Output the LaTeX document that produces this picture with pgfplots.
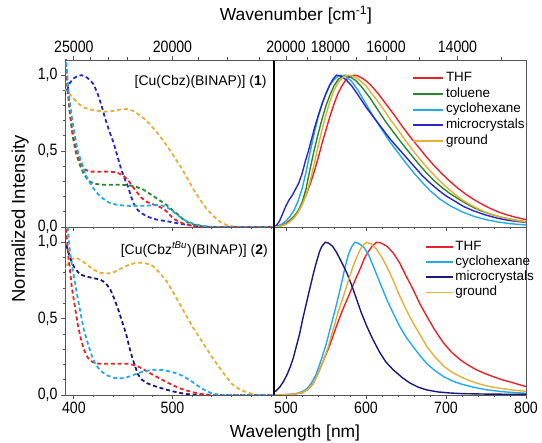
\documentclass[border=0pt]{standalone}
\usepackage{pgfplots}
\pgfplotsset{compat=1.18}
\usepackage{fontspec}
\setmainfont{Liberation Sans}
\newfontfamily\tickfont{Liberation Sans}[FakeStretch=0.86]

\definecolor{cTHF}{RGB}{232,35,40}
\definecolor{cTol}{RGB}{40,135,45}
\definecolor{cCyc}{RGB}{35,170,235}
\definecolor{cMicA}{RGB}{40,40,200}
\definecolor{cMicB}{RGB}{25,25,120}
\definecolor{cGnd}{RGB}{230,175,55}
\definecolor{framecol}{RGB}{85,85,85}

\pgfplotsset{
  panel/.style={
    scale only axis, anchor=south west,
    ymin=0, ymax=1.1,
    axis line style={framecol, line width=0.9bp},
    tick style={framecol, line width=0.8bp},
    tick align=outside,
    major tick length=4bp, minor tick length=2.5bp,
    ticklabel style={font=\tickfont\fontsize{16.5}{18}\selectfont},
    /pgf/number format/assume math mode=true,
    clip mode=individual,
  },
  leftpanel/.style={panel, width=209bp, xmin=391, xmax=603,
    xtick={400,500}, minor xtick={420,440,460,480,520,540,560,580,600},
    xtick pos=bottom,
    ytick={0,0.5,1}, minor ytick={0.1,0.2,0.3,0.4,0.6,0.7,0.8,0.9},
    ytick pos=left},
  rightpanel/.style={panel, width=252bp, xmin=485, xmax=800,
    xtick={500,600,700,800},
    minor xtick={520,540,560,580,620,640,660,680,720,740,760,780},
    xtick pos=bottom, ytick=\empty,
    after end axis/.append code={
      \draw[black, line width=1.3bp] (rel axis cs:0,0) -- (rel axis cs:0,1);}},
  wavenumber/.style={scale only axis, anchor=south west, ymin=0, ymax=1.1,
    axis x line*=top, axis y line=none,
    axis line style={framecol, line width=0.9bp},
    tick style={framecol, line width=0.8bp},
    tick align=outside, major tick length=4bp, minor tick length=2.5bp,
    ticklabel style={font=\tickfont\fontsize{16.5}{18}\selectfont}},
  abs/.style={line width=1.8bp, dash pattern=on 4bp off 2.8bp},
  emi/.style={line width=1.4bp},
}

\begin{document}
\begin{tikzpicture}[x=1bp, y=1bp]
\useasboundingbox (0,0) rectangle (542,443);

% ---------- complex 1: absorption ----------
\begin{axis}[leftpanel, at={(65bp,216bp)}, height=167bp, xticklabels={},
  yticklabels={\raisebox{2.5bp}{0,0},{0,5},{1,0}}]
\addplot[abs, cGnd] coordinates {(390,0.91)(394,0.89)(399,0.85)(405,0.81)(411,0.785)(419,0.77)(427,0.762)(434,0.76)(441,0.765)(448,0.775)(454,0.777)(460,0.765)(466,0.74)(472,0.71)(478,0.67)(484,0.625)(490,0.575)(497,0.51)(504,0.44)(510,0.38)(516,0.31)(522,0.24)(528,0.18)(534,0.125)(541,0.075)(548,0.035)(555,0.012)(562,0.003)(570,0)(603,0)};
\addplot[abs, cMicA] coordinates {(390,0.86)(393,0.9)(396,0.95)(400,0.98)(404,0.995)(408,1.0)(412,0.99)(416,0.97)(420,0.94)(424,0.88)(428,0.8)(432,0.71)(436,0.63)(440,0.56)(444,0.47)(448,0.38)(452,0.31)(455,0.265)(458,0.2)(461,0.15)(465,0.11)(470,0.085)(476,0.065)(483,0.05)(490,0.042)(497,0.035)(505,0.025)(514,0.015)(522,0.006)(530,0)(603,0)};
\addplot[abs, cTol] coordinates {(389,1.35)(392,1.05)(394,0.88)(396,0.74)(399,0.59)(402,0.49)(406,0.41)(410,0.35)(414,0.31)(420,0.285)(430,0.278)(445,0.278)(455,0.276)(463,0.265)(470,0.248)(478,0.215)(486,0.18)(494,0.145)(500,0.11)(505,0.085)(510,0.055)(515,0.032)(522,0.015)(530,0.005)(540,0)(603,0)};
\addplot[abs, cTHF] coordinates {(389,1.35)(392,1.08)(394,0.9)(396,0.76)(398,0.65)(401,0.55)(404,0.48)(407,0.42)(411,0.38)(416,0.365)(425,0.364)(435,0.365)(443,0.36)(450,0.34)(456,0.3)(462,0.245)(468,0.195)(474,0.165)(480,0.15)(486,0.135)(491,0.12)(496,0.09)(500,0.06)(505,0.04)(512,0.02)(521,0.008)(530,0)(603,0)};
\addplot[abs, cCyc] coordinates {(389,1.4)(391,1.2)(393,1.02)(395,0.87)(398,0.72)(401,0.6)(404,0.5)(408,0.42)(413,0.33)(418,0.27)(424,0.22)(430,0.185)(436,0.16)(443,0.147)(452,0.14)(462,0.138)(472,0.14)(480,0.143)(487,0.145)(493,0.135)(498,0.115)(503,0.09)(508,0.065)(514,0.04)(521,0.022)(528,0.01)(536,0.003)(545,0)(603,0)};
\node[anchor=east, inner sep=0pt, font=\fontsize{14}{16}\selectfont]
  at (rel axis cs:0.965,0.868) {[Cu(Cbz)(BINAP)] (\textbf{1})};
\end{axis}
\begin{axis}[wavenumber, at={(65bp,216bp)}, width=209bp, height=167bp,
  xmin=391, xmax=603, xtick={400,500}, xticklabels={25000,20000},
  minor xtick={416.667,434.783,454.545,476.190,526.316,555.556,588.235}]
\end{axis}

% ---------- complex 1: emission ----------
\begin{axis}[rightpanel, at={(274bp,216bp)}, height=167bp, xticklabels={},
  legend style={draw=none, fill=none, at={(0.537,0.951)}, anchor=north west,
    font=\fontsize{13.5}{15}\selectfont, row sep=0pt,
    nodes={inner sep=1.6bp, text height=9.5bp, text depth=3bp}},
  legend cell align=left,
  legend image code/.code={\draw[#1, line width=1.9bp] (0bp,0bp) -- (30bp,0bp);}]
\addplot[emi, cTHF] coordinates {(485,0)(490,0.005)(495,0.012)(500,0.025)(505,0.045)(510,0.07)(515,0.1)(520,0.15)(525,0.21)(530,0.28)(535,0.36)(540,0.45)(545,0.55)(550,0.64)(555,0.73)(560,0.81)(565,0.88)(570,0.93)(575,0.97)(580,0.99)(585,1.0)(590,0.995)(597,0.975)(605,0.94)(615,0.88)(625,0.81)(635,0.74)(645,0.665)(655,0.595)(665,0.53)(675,0.465)(685,0.405)(695,0.35)(705,0.3)(715,0.255)(725,0.215)(735,0.18)(745,0.15)(755,0.123)(765,0.1)(775,0.082)(787,0.064)(800,0.048)};
\addlegendentry{THF}
\addplot[emi, cTol] coordinates {(485,0)(490,0.004)(495,0.01)(500,0.022)(505,0.04)(510,0.068)(515,0.105)(520,0.16)(525,0.25)(530,0.38)(535,0.5)(540,0.61)(545,0.71)(550,0.8)(555,0.87)(560,0.93)(565,0.97)(570,0.993)(574,1.0)(580,0.99)(587,0.965)(595,0.92)(605,0.85)(615,0.77)(625,0.69)(635,0.62)(645,0.55)(655,0.485)(665,0.42)(675,0.36)(685,0.305)(695,0.26)(705,0.22)(717,0.18)(730,0.14)(742,0.11)(755,0.085)(770,0.063)(785,0.047)(800,0.034)};
\addlegendentry{toluene}
\addplot[emi, cCyc] coordinates {(485,0)(490,0.008)(495,0.02)(500,0.04)(505,0.07)(510,0.11)(515,0.17)(520,0.25)(525,0.36)(530,0.49)(535,0.61)(540,0.72)(545,0.81)(550,0.88)(555,0.935)(560,0.97)(565,0.993)(569,1.0)(575,0.99)(582,0.96)(590,0.9)(600,0.81)(610,0.72)(620,0.64)(630,0.56)(640,0.49)(650,0.42)(660,0.355)(670,0.295)(680,0.24)(692,0.185)(705,0.14)(720,0.1)(735,0.07)(750,0.048)(765,0.033)(780,0.022)(800,0.013)};
\addlegendentry{cyclohexane}
\addplot[emi, cMicA] coordinates {(485,0)(488,0.01)(492,0.04)(496,0.09)(500,0.14)(504,0.18)(508,0.21)(512,0.25)(516,0.29)(520,0.35)(524,0.43)(528,0.5)(532,0.58)(536,0.66)(540,0.73)(545,0.81)(550,0.88)(555,0.94)(559,0.975)(563,1.0)(568,0.995)(575,0.97)(582,0.93)(590,0.87)(600,0.79)(610,0.72)(620,0.65)(630,0.58)(640,0.52)(650,0.46)(660,0.4)(670,0.34)(680,0.29)(690,0.245)(700,0.205)(711,0.17)(722,0.135)(735,0.105)(750,0.078)(765,0.057)(780,0.042)(800,0.03)};
\addlegendentry{microcrystals}
\addplot[emi, cGnd] coordinates {(485,0)(490,0.003)(495,0.008)(500,0.018)(505,0.035)(510,0.06)(515,0.095)(520,0.145)(525,0.21)(530,0.3)(535,0.41)(540,0.53)(545,0.64)(550,0.74)(555,0.83)(560,0.9)(565,0.95)(570,0.98)(575,0.997)(578,1.0)(583,0.995)(590,0.975)(600,0.93)(610,0.86)(620,0.79)(630,0.71)(640,0.64)(650,0.565)(660,0.495)(670,0.43)(680,0.37)(690,0.315)(700,0.265)(710,0.22)(720,0.18)(730,0.148)(740,0.12)(750,0.097)(760,0.078)(770,0.063)(785,0.045)(800,0.032)};
\addlegendentry{ground}
\end{axis}
\begin{axis}[wavenumber, at={(274bp,216bp)}, width=252bp, height=167bp,
  xmin=485, xmax=800, xtick={500,555.556,625,714.286},
  xticklabels={20000,18000,16000,14000},
  minor xtick={526.316,588.235,666.667,769.231}]
\end{axis}

% ---------- complex 2: absorption ----------
\begin{axis}[leftpanel, at={(65bp,48bp)}, height=168bp,
  yticklabels={{0,0},{0,5},\raisebox{-1.5bp}{1,0}}]
\addplot[abs, cGnd] coordinates {(389,0.81)(393,0.85)(398,0.89)(402,0.9)(408,0.88)(414,0.85)(420,0.82)(427,0.8)(434,0.795)(441,0.805)(448,0.83)(455,0.85)(462,0.864)(468,0.867)(474,0.86)(480,0.845)(487,0.8)(494,0.746)(500,0.68)(507,0.6)(514,0.52)(521,0.44)(528,0.37)(534,0.31)(541,0.24)(548,0.177)(555,0.115)(561,0.068)(568,0.038)(575,0.018)(582,0.005)(590,0)(603,0)};
\addplot[abs, cMicB] coordinates {(389,1.02)(392,0.99)(396,0.9)(400,0.84)(406,0.79)(413,0.775)(420,0.765)(427,0.755)(432,0.735)(437,0.69)(441,0.63)(445,0.56)(449,0.48)(453,0.4)(456,0.32)(459,0.25)(462,0.19)(465,0.135)(469,0.1)(474,0.078)(480,0.062)(487,0.048)(494,0.035)(501,0.023)(508,0.013)(515,0.006)(522,0.002)(530,0)(603,0)};
\addplot[abs, cTHF] coordinates {(389,1.4)(392,1.1)(394,0.93)(396,0.82)(398,0.7)(401,0.58)(404,0.46)(407,0.37)(410,0.3)(414,0.245)(419,0.215)(425,0.205)(435,0.204)(445,0.205)(455,0.204)(462,0.195)(468,0.178)(474,0.155)(480,0.133)(487,0.108)(494,0.085)(501,0.062)(507,0.045)(514,0.03)(521,0.017)(528,0.008)(536,0.002)(545,0)(603,0)};
\addplot[abs, cCyc] coordinates {(389,1.5)(392,1.25)(394,1.08)(396,0.94)(398,0.85)(401,0.74)(404,0.63)(407,0.53)(410,0.43)(414,0.34)(418,0.26)(422,0.2)(427,0.16)(433,0.13)(440,0.113)(446,0.108)(452,0.112)(458,0.125)(464,0.14)(470,0.153)(477,0.162)(484,0.166)(491,0.163)(498,0.153)(505,0.14)(512,0.12)(518,0.095)(524,0.068)(530,0.042)(536,0.02)(542,0.008)(548,0.002)(555,0)(603,0)};
\node[anchor=east, inner sep=0pt, font=\fontsize{14}{16}\selectfont]
  at (rel axis cs:0.971,0.865) {[Cu(Cbz\textsuperscript{\textit{tBu}})(BINAP)] (\textbf{2})};
\end{axis}

% ---------- complex 2: emission ----------
\begin{axis}[rightpanel, at={(274bp,48bp)}, height=168bp,
  legend style={draw=none, fill=none, at={(0.587,0.9375)}, anchor=north west,
    font=\fontsize{13.5}{15}\selectfont, row sep=0pt,
    nodes={inner sep=1.3bp, text height=9.5bp, text depth=3bp}},
  legend cell align=left,
  legend image code/.code={\draw[#1, line width=1.9bp] (0bp,0bp) -- (27bp,0bp);}]
\addplot[emi, cTHF] coordinates {(485,0)(500,0.002)(510,0.006)(520,0.014)(527,0.035)(534,0.075)(540,0.14)(547,0.23)(555,0.33)(563,0.45)(571,0.56)(580,0.67)(587,0.76)(593,0.83)(598,0.895)(603,0.94)(608,0.975)(613,1.0)(618,0.997)(626,0.975)(634,0.93)(642,0.865)(650,0.78)(659,0.69)(667,0.6)(676,0.515)(686,0.425)(697,0.34)(707,0.28)(718,0.23)(728,0.195)(738,0.165)(749,0.14)(759,0.12)(770,0.1)(780,0.086)(790,0.07)(800,0.055)};
\addlegendentry{THF}
\addplot[emi, cCyc] coordinates {(485,0)(500,0.002)(510,0.006)(515,0.012)(520,0.022)(526,0.04)(532,0.08)(538,0.14)(544,0.23)(550,0.33)(556,0.45)(562,0.57)(568,0.7)(574,0.84)(578,0.92)(582,0.97)(586,1.0)(590,0.995)(597,0.97)(603,0.92)(609,0.845)(617,0.74)(626,0.625)(634,0.535)(642,0.45)(650,0.38)(659,0.315)(668,0.255)(676,0.205)(686,0.16)(697,0.12)(708,0.092)(718,0.073)(735,0.05)(751,0.034)(770,0.022)(785,0.016)(800,0.011)};
\addlegendentry{cyclohexane}
\addplot[emi, cMicB] coordinates {(482,0.01)(487,0.025)(492,0.05)(497,0.09)(501,0.13)(505,0.18)(509,0.24)(513,0.32)(517,0.4)(521,0.5)(525,0.59)(529,0.68)(534,0.79)(538,0.87)(542,0.94)(545,0.975)(549,1.0)(553,0.995)(558,0.975)(563,0.935)(569,0.875)(576,0.8)(582,0.72)(588,0.63)(594,0.54)(601,0.45)(608,0.37)(617,0.28)(625,0.215)(634,0.165)(645,0.115)(655,0.078)(665,0.052)(676,0.033)(690,0.02)(705,0.013)(720,0.009)(750,0.006)(800,0.004)};
\addlegendentry{microcrystals}
\addplot[emi, cGnd] coordinates {(485,0)(500,0.002)(510,0.006)(520,0.015)(527,0.035)(534,0.075)(540,0.14)(547,0.23)(553,0.32)(559,0.43)(565,0.54)(572,0.65)(578,0.75)(584,0.845)(589,0.91)(593,0.955)(597,0.985)(601,1.0)(606,0.99)(613,0.955)(620,0.9)(626,0.84)(634,0.75)(642,0.65)(650,0.56)(659,0.47)(668,0.39)(676,0.318)(686,0.25)(697,0.19)(707,0.15)(718,0.12)(728,0.097)(738,0.078)(752,0.058)(767,0.044)(784,0.032)(800,0.024)};
\addlegendentry{ground}
\end{axis}

% shared axis titles
\node[font=\fontsize{17.5}{20}\selectfont] at (295,10) {Wavelength [nm]};
\node[font=\fontsize{17.5}{20}\selectfont] at (296,428) {Wavenumber [cm\textsuperscript{-1}]};
\node[font=\fontsize{18.5}{21}\selectfont, rotate=90] at (20,224) {Normalized Intensity};
\end{tikzpicture}
\end{document}
